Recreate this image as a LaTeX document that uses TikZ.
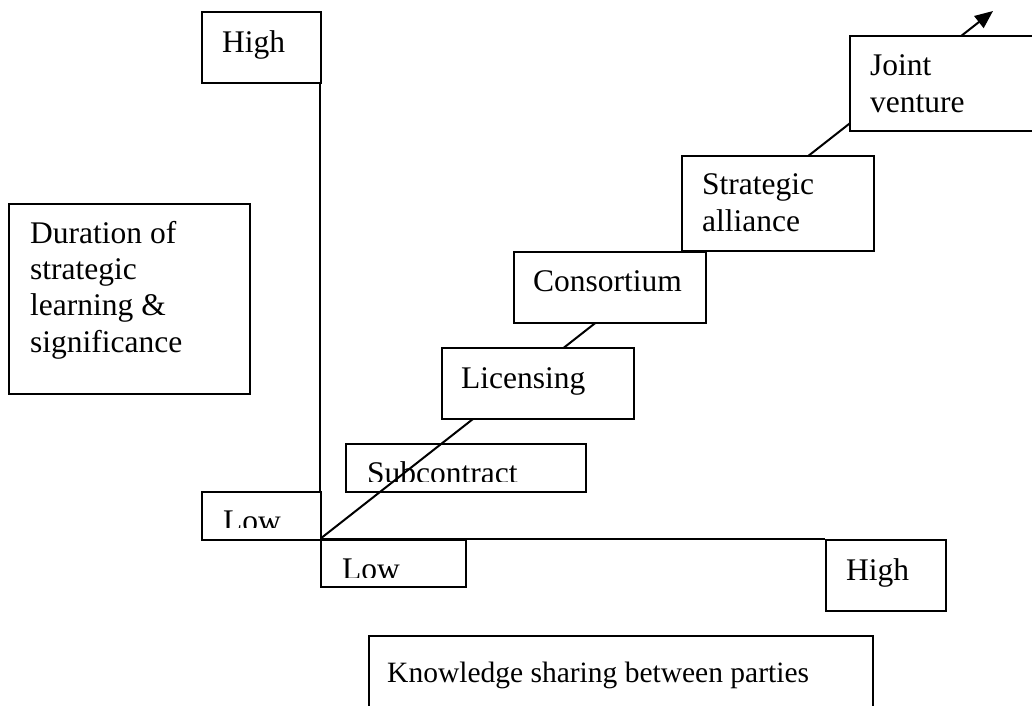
\documentclass[tikz,border=0pt]{standalone}
\usepackage{fontspec}
\setmainfont{Liberation Serif}
\usetikzlibrary{arrows.meta}
\begin{document}
\begin{tikzpicture}[x=1pt,y=-1pt,
  box/.style={draw,line width=2pt,fill=white,inner sep=0pt,anchor=north west},
  lbl/.style={anchor=base west,inner sep=0pt,align=left,font=\fontsize{31.5}{37}\selectfont},
  axisline/.style={line width=2pt},
]
\useasboundingbox (0,0) rectangle (1032,705);
\clip (0,0) rectangle (1032,705);

% Subcontract (drawn below the diagonal)
\node[box,minimum width=240pt,minimum height=48pt] (subbox) at (345,443) {};
\begin{scope}
  \clip (345,443) rectangle (585,481.5);
  \node[lbl] (subtxt) at (367,483) {Subcontract};
\end{scope}

% axes
\coordinate (o) at (320,539);
\coordinate (ytop) at (320,11);
\coordinate (xend) at (825,539);
\coordinate (tip) at (993,11);
\draw[axisline] (o) -- (ytop);
\draw[axisline] (o) -- (xend);
\draw[axisline,-{Triangle[length=18pt,width=15pt]}] (o) -- (tip);

% boxes on the axes
\node[box,minimum width=119pt,minimum height=71pt] (highy) at (201,11) {};
\node[lbl] (highytxt) at (222,52) {High};

\node[box,minimum width=119pt,minimum height=48pt] (lowy) at (201,491) {};
\begin{scope}
  \clip (201,491) rectangle (320,527.5);
  \node[lbl] (lowytxt) at (223,531) {Low};
\end{scope}

\node[box,minimum width=145pt,minimum height=47pt] (lowx) at (320,539) {};
\begin{scope}
  \clip (320,539) rectangle (465,577.5);
  \node[lbl] (lowxtxt) at (342,579) {Low};
\end{scope}

\node[box,minimum width=120pt,minimum height=71pt] (highx) at (825,539) {};
\node[lbl] (highxtxt) at (846,580) {High};

% steps
\node[box,minimum width=192pt,minimum height=71pt] (lic) at (441,347) {};
\node[lbl] (lictxt) at (461,388) {Licensing};

\node[box,minimum width=192pt,minimum height=71pt] (cons) at (513,251) {};
\node[lbl] (constxt) at (533,291) {Consortium};

\node[box,minimum width=192pt,minimum height=95pt] (sa) at (681,155) {};
\node[lbl] (satxt) at (702,231) {Strategic\\alliance};

\node[box,minimum width=200pt,minimum height=95pt] (jv) at (849,35) {};
\node[lbl] (jvtxt) at (870,112) {Joint\\venture};

% axis titles
\node[box,minimum width=241pt,minimum height=190pt] (dur) at (8,203) {};
\node[lbl,font=\fontsize{31.5}{36.3}\selectfont] (durtxt) at (30,352) {Duration of\\strategic\\learning \&\\significance};

\node[box,minimum width=504pt,minimum height=90pt] (ks) at (368,635) {};
\node[lbl,font=\fontsize{29.5}{35}\selectfont] (kstxt) at (387,682) {Knowledge sharing between parties};
\end{tikzpicture}
\end{document}
